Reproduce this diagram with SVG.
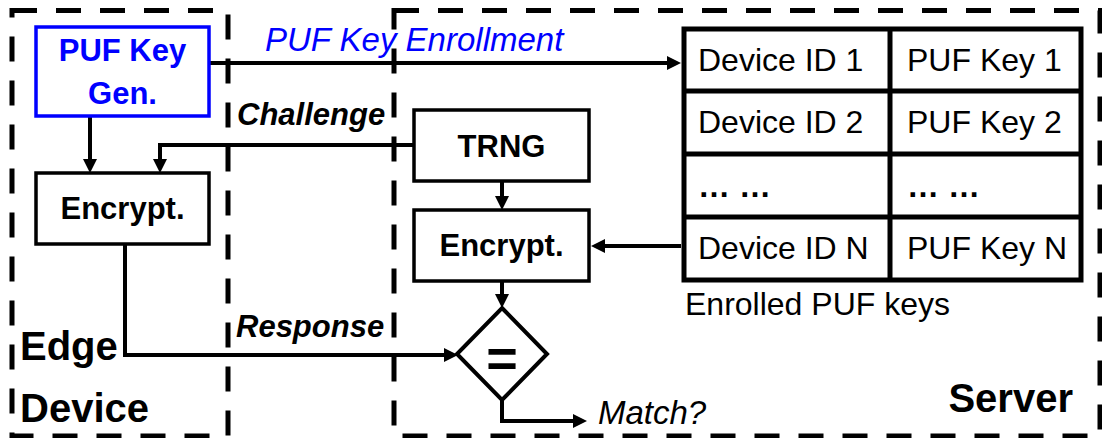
<svg xmlns="http://www.w3.org/2000/svg" width="1102" height="438" viewBox="0 0 1102 438">
  <defs>
    <style>
      text { font-family: "Liberation Sans", Arial, sans-serif; fill: #000; }
      .zone { fill: none; stroke: #000; stroke-width: 5; stroke-dasharray: 25 19; }
      .box { fill: #fff; stroke: #000; stroke-width: 3.5; }
      .keygen { fill: #fff; stroke: #0000ff; stroke-width: 3.5; }
      .lbl { font-size: 31px; font-weight: bold; text-anchor: middle; }
      .blue { fill: #0000ff; }
      .cell { font-size: 32px; }
      .grid { fill: none; stroke: #000; stroke-width: 5; }
      .wire { fill: none; stroke: #000; stroke-width: 4; marker-end: url(#head); }
      .tag { font-size: 31px; font-style: italic; font-weight: bold; }
      .title { font-size: 40px; font-weight: bold; }
    </style>
    <marker id="head" markerUnits="userSpaceOnUse" markerWidth="14" markerHeight="14" refX="4" refY="7" orient="auto">
      <path d="M0,0 L14,7 L0,14 z" fill="#000"/>
    </marker>
  </defs>

  <!-- zone outlines -->
  <g id="zones">
    <rect class="zone" x="12" y="10.5" width="216" height="425.5"/>
    <rect class="zone" x="394" y="10.5" width="706" height="425.5"/>
  </g>

  <!-- connectors -->
  <g id="connectors">
    <path class="wire" d="M209,63 H671"/>
    <path class="wire" d="M90,116 V163"/>
    <path class="wire" d="M413,145 H160 V163"/>
    <path class="wire" d="M125,244 V355 H448"/>
    <path class="wire" d="M502,181 V200"/>
    <path class="wire" d="M681,246 H601"/>
    <path class="wire" d="M502,281 V298"/>
    <path class="wire" d="M502,400 V421 H577"/>
  </g>

  <g id="keygen">
    <rect class="keygen" x="36" y="27" width="173" height="89"/>
    <text class="lbl blue" x="122.5" y="61">PUF Key</text>
    <text class="lbl blue" x="122.5" y="104">Gen.</text>
  </g>

  <g id="edge-encrypt">
    <rect class="box" x="36" y="173" width="173" height="71"/>
    <text class="lbl" x="122.5" y="219">Encrypt.</text>
  </g>

  <g id="trng">
    <rect class="box" x="414" y="110" width="175" height="71"/>
    <text class="lbl" x="501.5" y="157">TRNG</text>
  </g>

  <g id="server-encrypt">
    <rect class="box" x="414" y="210" width="175" height="71"/>
    <text class="lbl" x="501.5" y="256">Encrypt.</text>
  </g>

  <g id="compare">
    <polygon points="502,308 547,354 502,400 457,354" fill="#fff" stroke="#000" stroke-width="4"/>
    <text x="502" y="377" font-size="54" font-weight="bold" text-anchor="middle">=</text>
  </g>

  <g id="key-table">
    <rect class="grid" x="684" y="29" width="397" height="251"/>
    <path class="grid" d="M890,29 V280 M684,91 H1081 M684,154 H1081 M684,217 H1081"/>
    <text class="cell" x="698" y="71">Device ID 1</text>
    <text class="cell" x="907" y="71">PUF Key 1</text>
    <text class="cell" x="698" y="133">Device ID 2</text>
    <text class="cell" x="907" y="133">PUF Key 2</text>
    <text class="cell" x="698" y="197" font-weight="bold">… …</text>
    <text class="cell" x="907" y="197" font-weight="bold">… …</text>
    <text class="cell" x="698" y="259">Device ID N</text>
    <text class="cell" x="907" y="259">PUF Key N</text>
    <text x="685" y="315" font-size="32">Enrolled PUF keys</text>
  </g>

  <!-- connector labels -->
  <g id="labels">
    <text class="blue" x="265" y="51" font-size="33" font-style="italic">PUF Key Enrollment</text>
    <text class="tag" x="237" y="125">Challenge</text>
    <text class="tag" x="236" y="337">Response</text>
    <text x="598" y="424" font-size="33" font-style="italic">Match?</text>
  </g>

  <!-- zone titles -->
  <g id="titles">
    <text class="title" x="20" y="360">Edge</text>
    <text class="title" x="20" y="422">Device</text>
    <text class="title" x="1073" y="412" text-anchor="end">Server</text>
  </g>
</svg>
